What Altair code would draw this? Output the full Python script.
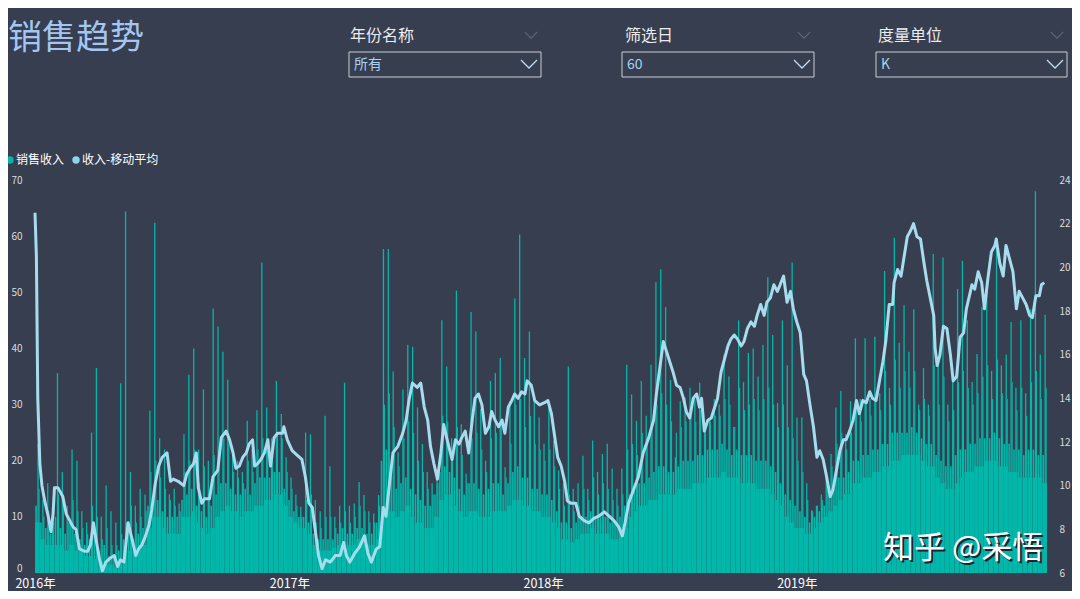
import altair as alt
import pandas as pd

# ---------------- data ----------------
# weekly bins starting 2016-01-01 (values in K): tallest day, a second tall day,
# the typical upper level of the dense mass and its solid lower level
peak = [
    23, 13, 16, 12, 35.6, 18, 12, 22, 20, 11,
    9, 25, 36.5, 10, 15.6, 11, 9, 33.8, 64.4, 18,
    12, 15, 14, 28.9, 62.4, 24, 22, 14, 15, 12.4,
    24.7, 35.3, 40, 22, 32.7, 20, 47.1, 43.9, 39.4, 34.4,
    22, 20, 18, 27.1, 22, 29, 55.3, 29.5, 24, 34.2,
    28.3, 20.6, 17, 14, 11.8, 25, 24.7, 13, 11, 28,
    19, 10, 12, 33.9, 12, 12.4, 16.2, 13.9, 11, 10.6,
    13.9, 57.7, 57.7, 35.9, 21.5, 32.7, 40.6, 40.3, 29.5, 23,
    18, 16, 17, 45, 36.8, 24, 50.3, 26.5, 17.7, 46.5,
    43, 29.2, 20, 34.2, 35.6, 38.3, 18.9, 30.6, 48.9, 60.3,
    38.3, 43, 30.6, 27.7, 23, 29.5, 23.6, 18.3, 16, 36.8,
    15, 16, 20.9, 15, 23.6, 18, 21.2, 23, 18.6, 15,
    18.6, 37.1, 31.8, 27.1, 34.2, 28, 37.1, 51.8, 54.1, 47.4,
    34.4, 20.6, 30.6, 31.2, 33, 31, 33.9, 26, 27.5, 31,
    30, 38.9, 35, 26, 45, 34, 39.2, 40, 35, 40.6,
    52.7, 42.4, 30.3, 45, 37, 55.3, 27.7, 27.7, 16, 11.2,
    12, 14, 18, 21.2, 29.5, 32.4, 24.7, 30.6, 41.8, 31,
    41.8, 31, 42.1, 32, 53.8, 33, 59.7, 41, 47.7, 39.4,
    47, 30, 36.5, 30, 56.8, 37, 56.2, 30, 35, 50.6,
    55.6, 45, 34, 39, 47.4, 51.8, 36, 59.7, 37, 38.9,
    44.7, 33, 45, 32, 47, 68, 38.9, 46,
]
upper = [
    15, 10, 11, 9, 14, 12, 9, 13, 11, 8,
    7, 12, 10, 6, 8, 5, 5, 7, 9, 12,
    9, 10, 11, 18, 20, 17, 15, 13, 12, 11,
    18, 20, 22, 16, 19, 14, 21, 22, 24, 23,
    18, 17, 16, 20, 18, 22, 24, 23, 21, 25,
    24, 18, 15, 12, 10, 13, 14, 9, 8, 10,
    10, 8, 9, 11, 9, 10, 12, 11, 9, 9,
    12, 30, 32, 26, 19, 24, 27, 25, 20, 18,
    15, 14, 16, 28, 27, 21, 26, 21, 16, 24,
    25, 22, 18, 24, 25, 27, 17, 23, 30, 31,
    26, 28, 23, 22, 20, 22, 19, 15, 12, 14,
    11, 12, 15, 13, 17, 14, 16, 15, 13, 12,
    14, 22, 23, 21, 25, 23, 26, 30, 32, 30,
    27, 25, 26, 27, 28, 27, 29, 26, 27, 28,
    28, 31, 30, 26, 33, 29, 30, 31, 29, 31,
    33, 30, 26, 30, 26, 24, 20, 18, 13, 11,
    12, 13, 16, 19, 23, 25, 22, 25, 30, 27,
    31, 28, 32, 29, 36, 30, 38, 33, 36, 33,
    36, 29, 31, 28, 37, 30, 35, 27, 29, 34,
    36, 33, 30, 32, 35, 37, 31, 38, 32, 31,
    34, 29, 33, 28, 34, 36, 31, 33,
]
mid = [
    12, 9, 8, 7, 10, 8, 7, 9, 7, 6,
    5, 6, 7, 4, 5, 3, 3, 4, 6, 8,
    6, 7, 8, 12, 13, 13, 11, 10, 10, 10,
    13, 14, 15, 12, 11, 10, 12, 14, 16, 16,
    15, 14, 14, 15, 14, 16, 17, 17, 17, 18,
    18, 15, 13, 11, 10, 10, 9, 7, 6, 6,
    6, 6, 7, 8, 7, 7, 8, 8, 7, 7,
    9, 20, 22, 18, 15, 16, 17, 15, 14, 13,
    12, 12, 14, 18, 19, 18, 17, 15, 14, 16,
    16, 15, 14, 15, 16, 16, 14, 16, 18, 19,
    17, 17, 15, 15, 14, 14, 13, 11, 9, 9,
    8, 9, 10, 10, 11, 10, 10, 10, 9, 9,
    10, 12, 14, 15, 16, 16, 17, 18, 19, 19,
    18, 18, 19, 20, 20, 20, 21, 21, 22, 22,
    22, 23, 22, 21, 22, 21, 21, 21, 20, 20,
    20, 19, 18, 16, 14, 13, 12, 11, 10, 9,
    10, 11, 12, 14, 15, 17, 17, 18, 20, 20,
    21, 21, 22, 22, 23, 23, 25, 25, 25, 25,
    26, 25, 24, 23, 23, 21, 20, 19, 19, 21,
    22, 22, 23, 23, 24, 24, 24, 25, 24, 23,
    23, 22, 22, 21, 22, 22, 21, 21,
]
base = [
    9, 6, 5, 5, 5, 5, 4, 5, 4, 4,
    3, 3, 2.5, 2, 1.5, 1.5, 1, 1.5, 2, 4,
    4, 5, 5, 8, 10, 10, 8, 7, 7, 7,
    10, 10, 11, 9, 8, 7, 8, 10, 11, 12,
    11, 11, 10, 11, 11, 12, 12, 13, 13, 14,
    14, 12, 10, 9, 8, 8, 7, 5, 4, 4,
    4, 4.5, 5, 5.5, 5, 5, 6, 6, 5, 5,
    6, 9, 11, 11, 10, 11, 12, 10, 9, 9,
    8, 8, 10, 13, 14, 14, 12, 11, 10, 11,
    11, 10, 10, 10, 11, 11, 11, 12, 13, 13,
    12, 12, 11, 11, 10, 10, 9, 8, 6, 6,
    5.5, 6, 7, 7, 8, 7, 7, 7, 6, 6,
    7, 8, 10, 11, 12, 12, 13, 13, 14, 14,
    14, 14, 15, 15, 15, 16, 16, 16, 17, 17,
    17, 18, 17, 17, 17, 16, 16, 16, 15, 15,
    15, 14, 13, 12, 10, 9, 8, 8, 7, 7,
    8, 9, 10, 11, 12, 13, 14, 14, 16, 16,
    17, 17, 18, 18, 19, 19, 20, 20, 21, 21,
    21, 21, 20, 19, 19, 17, 16, 15, 15, 16,
    17, 18, 18, 19, 19, 20, 20, 20, 19, 19,
    18, 18, 17, 17, 17, 17, 17, 16,
]

# 60-day moving average: day offset from 2016-01-01 and value
ma_day = [
    0, 2, 4, 7, 10, 14, 19, 23, 26, 28, 33, 40, 45, 50, 55, 59, 64, 71, 76, 80,
    84, 88, 93, 97, 102, 109, 114, 119, 123, 128, 134, 140, 145, 149, 154, 159, 164, 168, 173, 178,
    183, 190, 195, 199, 206, 214, 218, 223, 228, 232, 235, 240, 244, 251, 256, 263, 268, 275, 280, 285,
    289, 294, 299, 304, 308, 313, 316, 320, 325, 330, 335, 339, 344, 349, 356,
    358, 363, 370, 377, 384, 389, 394, 399, 403, 408, 413, 418, 425, 432, 439, 444, 448, 453, 460, 467,
    474, 479, 484, 491, 496, 501, 505, 510, 515, 522, 529, 534, 538, 543, 550, 555, 560, 565, 569, 574,
    579, 584, 588, 593, 600, 605, 610, 614, 619, 624, 629, 633, 638, 643, 648, 653, 657, 662, 667, 672,
    676, 681, 686, 690, 695, 700, 705, 708, 714, 719, 726, 733, 738,
    743, 747, 752, 757, 762, 766, 771, 778, 783, 790, 797, 804, 811, 819, 826, 833, 840, 845, 849, 854,
    861, 868, 875, 883, 890, 894, 899, 904, 909, 913, 918, 923, 928, 933, 937, 942, 947, 952, 956, 959,
    963, 968, 973, 978, 982, 987, 992, 997, 1001, 1006, 1011, 1016, 1020, 1025, 1030, 1035, 1039, 1044, 1049, 1053,
    1058, 1063, 1068, 1072, 1077, 1082, 1087, 1091,
    1096, 1101, 1106, 1110, 1115, 1120, 1125, 1129, 1134, 1139, 1144, 1148, 1153, 1158, 1163, 1167, 1172, 1177, 1182, 1186,
    1191, 1196, 1201, 1205, 1210, 1215, 1220, 1224, 1229, 1234, 1236, 1241, 1246, 1250, 1255, 1260, 1264, 1269, 1274, 1279,
    1283, 1288, 1293, 1295, 1298, 1302, 1307, 1312, 1317, 1321, 1326, 1331, 1336, 1340, 1348, 1352, 1357, 1362, 1366, 1371,
    1376, 1381, 1383, 1388, 1393, 1397, 1402, 1407, 1412, 1416, 1421, 1426, 1431, 1435, 1440, 1445, 1448, 1452,
]
ma_val = [
    22.5, 20.5, 14.0, 11.0, 10.0, 9.3, 8.6, 7.9, 8.7, 9.9, 9.9, 9.5, 8.7, 8.4, 8.1, 8.0, 7.1, 7.0, 7.0, 7.3,
    8.3, 7.5, 6.6, 6.1, 6.5, 6.7, 6.8, 6.3, 6.6, 6.5, 8.3, 7.5, 6.8, 7.1, 7.3, 7.7, 8.2, 8.9, 10.1, 10.9,
    11.3, 11.5, 10.2, 10.3, 10.2, 10.0, 10.5, 10.8, 11.0, 11.5, 9.9, 9.2, 9.4, 9.4, 10.4, 10.7, 12.2, 12.5, 12.1, 11.5,
    10.8, 10.9, 11.3, 11.5, 11.9, 12.1, 10.9, 11.0, 11.2, 11.5, 12.1, 10.9, 12.2, 12.4, 12.4,
    12.7, 12.1, 11.6, 11.4, 11.2, 10.4, 9.2, 9.0, 8.0, 6.8, 6.2, 6.6, 6.5, 6.8, 6.8, 7.4, 6.8, 6.5, 6.9, 7.2,
    7.7, 6.9, 6.5, 7.1, 7.2, 9.0, 8.6, 10.1, 11.5, 11.8, 12.4, 13.0, 13.9, 14.7, 14.5, 14.7, 13.6, 13.0, 11.8, 11.0,
    10.3, 11.5, 12.8, 12.1, 11.2, 12.1, 11.9, 12.2, 12.5, 11.5, 13.0, 14.0, 14.2, 13.7, 12.4, 12.7, 13.4, 13.0, 12.7, 13.0,
    12.4, 13.6, 13.9, 14.2, 14.0, 14.3, 14.2, 14.8, 14.6, 13.9, 13.7, 13.8, 13.9,
    13.3, 12.4, 11.3, 10.9, 10.2, 9.3, 9.2, 9.2, 8.6, 8.4, 8.3, 8.5, 8.6, 8.8, 8.6, 8.4, 8.1, 7.7, 8.3, 9.2,
    9.8, 10.4, 11.5, 12.2, 13.0, 14.2, 15.4, 16.6, 16.1, 15.7, 15.2, 14.6, 14.5, 14.0, 13.4, 13.1, 14.0, 14.2, 13.6, 14.0,
    12.5, 13.0, 13.1, 13.6, 14.0, 15.2, 15.8, 16.4, 16.7, 16.9, 16.7, 16.4, 16.6, 17.2, 17.5, 17.3, 17.8, 18.3, 17.8, 18.4,
    18.6, 19.2, 18.9, 19.2, 19.6, 18.4, 18.9, 18.1,
    17.5, 17.0, 15.1, 14.8, 13.7, 12.7, 11.3, 11.6, 11.2, 10.4, 9.5, 9.8, 10.7, 11.6, 12.1, 12.1, 12.5, 13.0, 13.9, 13.3,
    13.9, 13.8, 14.3, 14.0, 13.9, 14.8, 15.7, 16.6, 18.3, 18.3, 19.3, 19.9, 19.6, 20.4, 21.4, 21.7, 22.0, 21.4, 21.3, 20.2,
    19.4, 18.6, 17.8, 16.3, 15.5, 16.0, 17.3, 17.2, 16.0, 14.8, 15.0, 16.8, 17.0, 18.1, 19.2, 19.0, 19.8, 19.3, 18.1, 19.5,
    20.7, 21.0, 21.3, 20.2, 19.6, 21.0, 20.4, 19.8, 18.1, 18.9, 18.6, 18.3, 17.8, 17.7, 18.7, 18.7, 19.2, 19.3,
]

years = [2016, 2017, 2018, 2019]
left_ticks = [0, 10, 20, 30, 40, 50, 60, 70]
right_ticks = [6, 8, 10, 12, 14, 16, 18, 20, 22, 24]

title_text = "销售趋势"
slicer_titles = ["年份名称", "筛选日", "度量单位"]
slicer_values = ["所有", "60", "K"]
legend_names = ["销售收入", "收入-移动平均"]
watermark = "知乎 @采悟"

# ---------------- style ----------------
BG = "#373e4f"
TEAL = "#01b8aa"
LINE = "#a6dcee"
FONT = "Noto Sans CJK SC"
PLOT_H = 393

origin = pd.Timestamp("2016-01-01")
wk = range(len(peak))


def weekly(values, hour_offset):
    return pd.DataFrame({"date": [origin + pd.Timedelta(hours=168 * k + hour_offset) for k in wk],
                         "v": values})


df_base = weekly(base, 84)
df_mid = weekly(mid, 36)
df_upper = weekly(upper, 138)
df_peak = weekly(peak, 104)
df_ma = pd.DataFrame({"date": [origin + pd.Timedelta(days=d) for d in ma_day], "v": ma_val})

xscale = alt.Scale(domain=[alt.DateTime(year=2016, month=1, date=1),
                           alt.DateTime(year=2019, month=12, date=27)])
x_axis = alt.Axis(values=[alt.DateTime(year=y, month=1, date=1) for y in years],
                  format="%Y年", formatType="time", labelFontSize=12.5, labelColor="#ffffff",
                  labelFont=FONT, labelFlush=False, labelPadding=4, labelBaseline="top",
                  domain=False, ticks=False, grid=False, title=None, labelOverlap=False)
yl_scale = alt.Scale(domain=[0, 70], nice=False)
yl_axis = alt.Axis(values=left_ticks, labelFontSize=10, labelColor="#dcdcdc", labelFont=FONT,
                   labelPadding=8, domain=False, ticks=False, grid=False, title=None,
                   labelBaseline={"condition": {"test": "datum.value === 0", "value": "bottom"},
                                  "value": "middle"})
yr_scale = alt.Scale(domain=[6, 24], nice=False, zero=False)
yr_axis = alt.Axis(orient="right", values=right_ticks, labelFontSize=10, labelColor="#dcdcdc",
                   labelFont=FONT, labelPadding=7, domain=False, ticks=False, grid=False, title=None)

X = alt.X("date:T", scale=xscale, axis=x_axis)
YL = alt.Y("v:Q", scale=yl_scale, axis=yl_axis)

base_l = alt.Chart(df_base).mark_bar(size=4.5, color=TEAL).encode(x=X, y=YL)
mid_l = alt.Chart(df_mid).mark_bar(size=1.6, color=TEAL).encode(x=X, y=YL)
upper_l = alt.Chart(df_upper).mark_bar(size=1.2, color=TEAL).encode(x=X, y=YL)
peak_l = alt.Chart(df_peak).mark_bar(size=1.3, color=TEAL).encode(x=X, y=YL)
bars = alt.layer(base_l, mid_l, upper_l, peak_l)

line_l = alt.Chart(df_ma).mark_line(color=LINE, strokeWidth=3, strokeJoin="round").encode(
    x=X, y=alt.Y("v:Q", scale=yr_scale, axis=yr_axis))


def label(text, x, y, size, color, align="left"):
    return alt.Chart(pd.DataFrame({"t": [text]})).mark_text(
        align=align, baseline="middle", fontSize=size, color=color, font=FONT
    ).encode(text="t:N", x=alt.value(x), y=alt.value(y))


def box(x1, x2, y1, y2):
    return alt.Chart(pd.DataFrame({"a": [0]})).mark_rect(
        fillOpacity=0, stroke="#c9ced6", strokeWidth=1
    ).encode(x=alt.value(x1), x2=alt.value(x2), y=alt.value(y1), y2=alt.value(y2))


CHEV = "M -1 -0.5 L 0 0.5 L 1 -0.5"


def chevron(x, y, size, color, sw):
    return alt.Chart(pd.DataFrame({"a": [0]})).mark_point(
        shape=CHEV, filled=False, size=size, color=color, strokeWidth=sw, opacity=1
    ).encode(x=alt.value(x), y=alt.value(y))


def dot(x, y, color):
    return alt.Chart(pd.DataFrame({"a": [0]})).mark_point(
        shape="circle", filled=True, size=55, color=color, opacity=1
    ).encode(x=alt.value(x), y=alt.value(y))


decor = [label(title_text, -22, -141, 34, "#a3c6f2")]
head_x = [320, 595, 848]
box_x = [(319, 511), (592, 784), (846, 1037)]
for i in range(3):
    decor.append(label(slicer_titles[i], head_x[i], -144, 16, "#ececec"))
    decor.append(chevron(box_x[i][1] - 10, -145, 160, "#5f6779", 1.1))
    decor.append(box(box_x[i][0], box_x[i][1], -128, -103))
    decor.append(label(slicer_values[i], box_x[i][0] + 5, -115, 14, "#a9d3f0"))
    decor.append(chevron(box_x[i][1] - 12, -116, 256, "#c2dbf0", 1.3))

decor += [
    dot(-20, -20, TEAL),
    label(legend_names[0], -14, -20, 12, "#ffffff"),
    dot(46, -20, "#8fd3ef"),
    label(legend_names[1], 52, -20, 12, "#ffffff"),
    label(watermark, 855, PLOT_H - 22, 31, "#1f2532"),
    label(watermark, 853, PLOT_H - 24, 31, "#ffffff"),
]

chart = alt.layer(bars, line_l, *decor).resolve_scale(y="independent").properties(
    width=1022, height=PLOT_H,
    autosize=alt.AutoSizeParams(type="none"),
    padding={"left": 22, "top": 172, "right": 20, "bottom": 583 - 172 - PLOT_H},
).configure(background=BG).configure_view(stroke="transparent")

chart.save("out.html", embed_options={"renderer": "svg", "actions": False})
